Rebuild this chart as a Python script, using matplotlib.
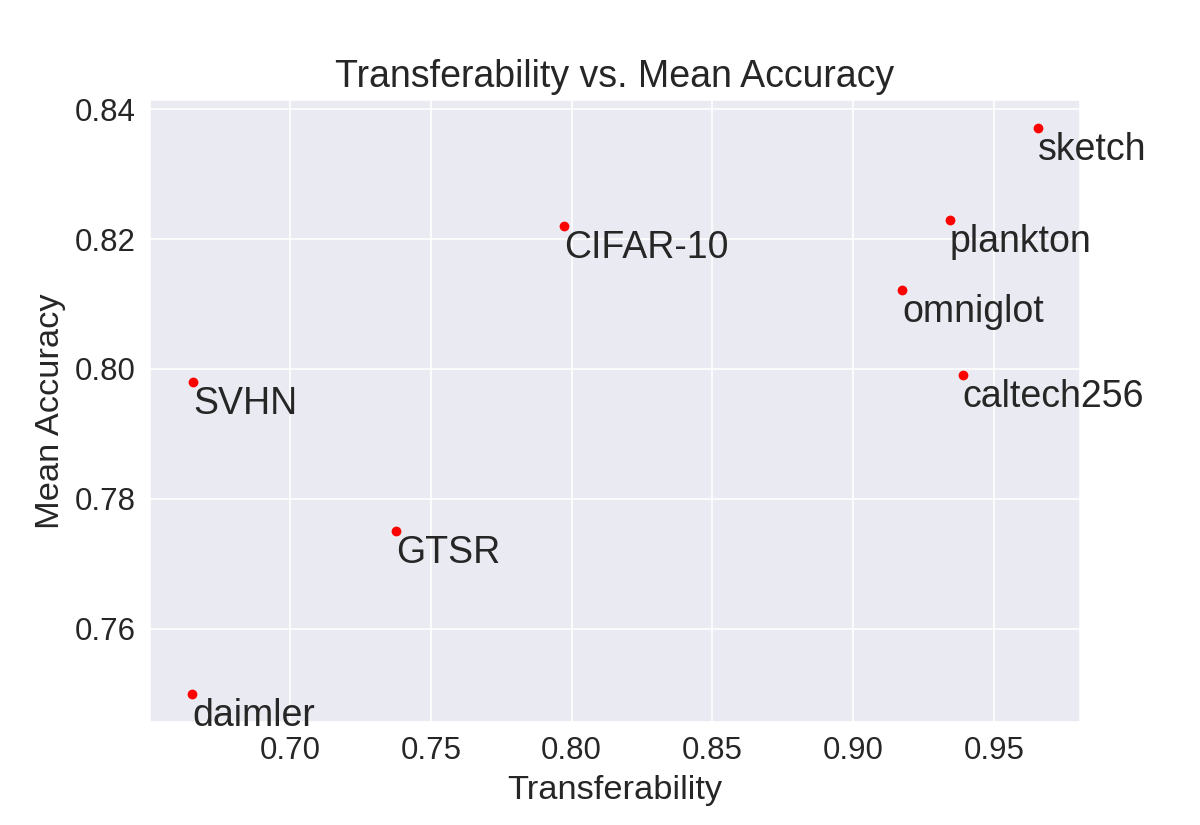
import matplotlib
matplotlib.use('Agg')
import matplotlib.pyplot as plt
import seaborn as sns

sns.set_style('darkgrid')
plt.rcParams['font.family'] = ['Liberation Sans', 'DejaVu Sans']

# values
datasets = ['daimler', 'SVHN', 'GTSR', 'CIFAR-10', 'omniglot', 'plankton', 'caltech256', 'sketch']
transferability = [0.6652, 0.6656, 0.7376, 0.7972, 0.9174, 0.9344, 0.9390, 0.9656]
mean_accuracy = [0.7500, 0.7980, 0.7751, 0.8220, 0.8122, 0.8230, 0.7991, 0.8371]

fig = plt.figure(figsize=(8, 5.5), dpi=150)
ax = fig.add_subplot(111)
fig.subplots_adjust(left=0.125, right=0.9, top=0.879, bottom=0.125)

ax.scatter(transferability, mean_accuracy, s=22, c='red', linewidths=0)
for name, x, y in zip(datasets, transferability, mean_accuracy):
    ax.annotate(name, (x, y), xytext=(0, -2), textcoords='offset points',
                fontsize=18, va='top', ha='left', color='#262626')

ax.set_title('Transferability vs. Mean Accuracy', fontsize=18, color='#262626')
ax.set_xlabel('Transferability', fontsize=16.5, color='#262626')
ax.set_ylabel('Mean Accuracy', fontsize=16.5, color='#262626')
ax.tick_params(labelsize=15, colors='#262626')
ax.set_xticks([0.70, 0.75, 0.80, 0.85, 0.90, 0.95])
ax.set_yticks([0.76, 0.78, 0.80, 0.82, 0.84])

fig.savefig('out.png', dpi=150)
